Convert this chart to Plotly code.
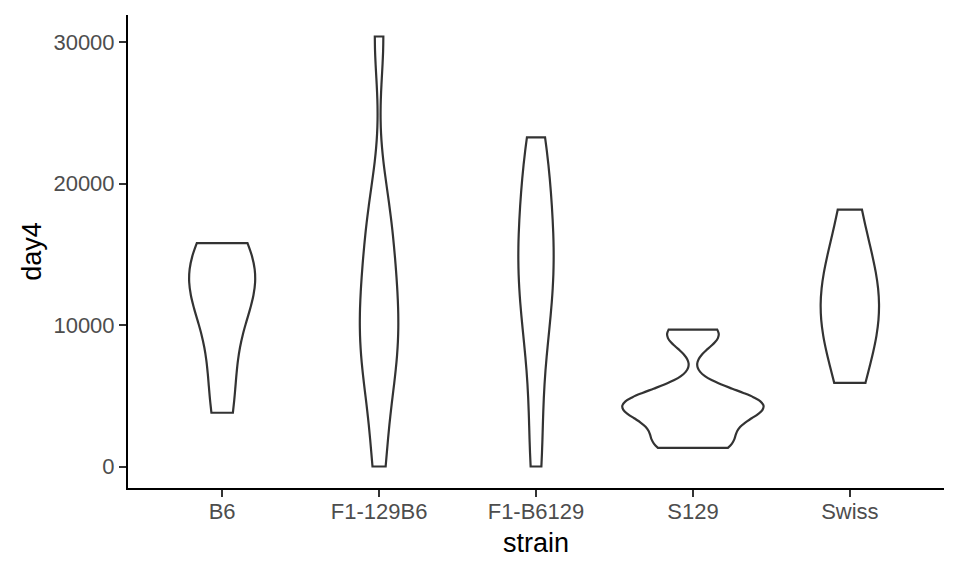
import plotly.graph_objects as go

strains = ["B6", "F1-129B6", "F1-B6129", "S129", "Swiss"]

# day4 values per strain
b6 = [3800, 7500, 11500, 12500, 13500, 14500, 15800]
f1_129b6 = [0, 4000, 6500, 8000, 9500, 11000, 12500, 14500, 16500, 19000, 30410]
f1_b6129 = [0, 4500, 8500, 10500, 12500, 14000, 15500, 17000, 19000, 21000, 23270]
s129 = [1320, 1600, 2400, 3500, 3900, 4200, 4400, 4800, 5300, 9000, 9680]
swiss = [5920, 8500, 10000, 11000, 12000, 13000, 14500, 18160]

values = [b6, f1_129b6, f1_b6129, s129, swiss]
bandwidths = [2800, 3000, 3000, 900, 3500]
widths = [0.42, 0.245, 0.225, 0.9, 0.372]

fig = go.Figure()
for name, vals, bw, w in zip(strains, values, bandwidths, widths):
    fig.add_trace(go.Violin(
        x=[name] * len(vals),
        y=vals,
        name=name,
        bandwidth=bw,
        width=w,
        spanmode="hard",
        points=False,
        box_visible=False,
        meanline_visible=False,
        fillcolor="white",
        line=dict(color="#333333", width=2.2),
        showlegend=False,
    ))

# page body has an 8px margin, so the figure is a bit smaller than the window
fig.update_layout(
    width=952, height=568,
    plot_bgcolor="white", paper_bgcolor="white",
    violinmode="overlay",
    margin=dict(l=120, r=16, t=7, b=88),
    font=dict(family="Liberation Sans, Arial, sans-serif"),
)
fig.update_xaxes(
    type="category", categoryorder="array", categoryarray=strains,
    range=[-0.6, 4.6], automargin=False,
    showline=True, linecolor="black", linewidth=2,
    ticks="outside", ticklen=7, tickwidth=2, tickcolor="#333333",
    tickfont=dict(size=22, color="#4D4D4D"), ticklabelstandoff=-4,
    showgrid=False, zeroline=False,
    title=dict(text="strain", font=dict(size=27, color="black"), standoff=10),
)
fig.update_yaxes(
    range=[-1520, 31930], automargin=False,
    tickvals=[0, 10000, 20000, 30000],
    ticktext=["0", "10000", "20000", "30000"],
    showline=True, linecolor="black", linewidth=2,
    ticks="outside", ticklen=7, tickwidth=2, tickcolor="#333333",
    tickfont=dict(size=22, color="#4D4D4D"), ticklabelstandoff=0,
    showgrid=False, zeroline=False,
    title=dict(text="day4", font=dict(size=27, color="black"), standoff=4),
)

fig.write_html("out.html")
